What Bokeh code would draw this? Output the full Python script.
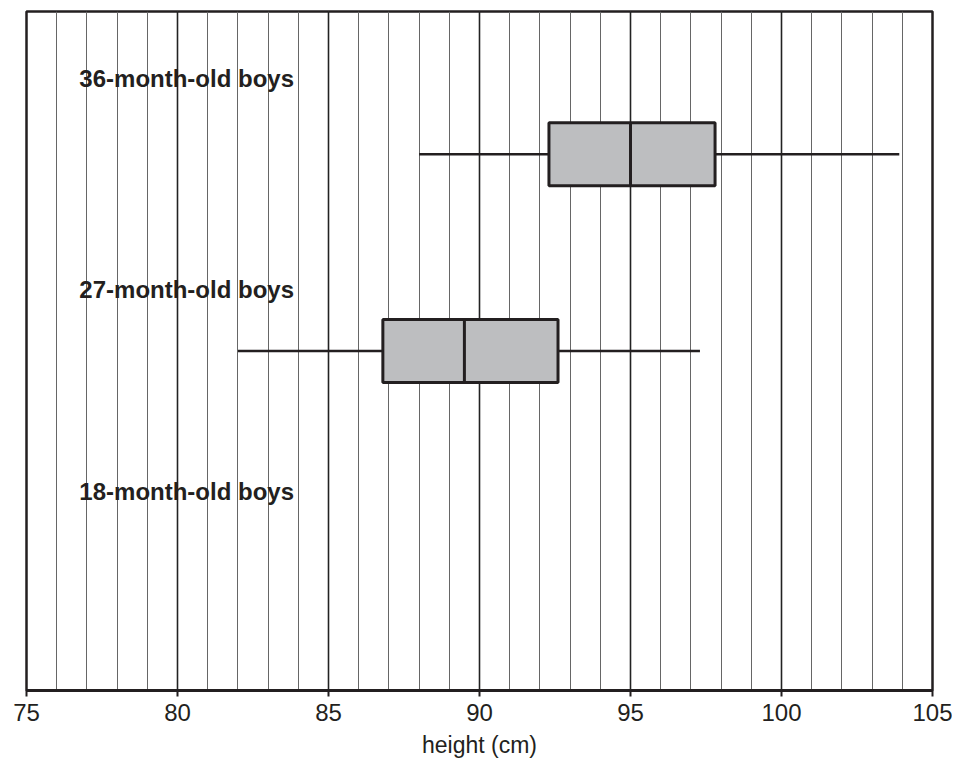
from bokeh.plotting import figure
from bokeh.models import SingleIntervalTicker, ColumnDataSource
from bokeh.core.properties import value
from bokeh.embed import file_html
from bokeh.resources import INLINE

# ---- data ----
groups = ["18-month-old boys", "27-month-old boys", "36-month-old boys"]
box_groups = ["27-month-old boys", "36-month-old boys"]
mins = [82.0, 88.0]
q1 = [86.8, 92.3]
medians = [89.5, 95.0]
q3 = [92.6, 97.8]
maxs = [97.3, 103.9]
x_label = "height (cm)"

# ---- layout ----
INK = "#231F20"
half = 0.16
label_x = 76.75
label_offsets = [0.287, 0.315, 0.383]

rows = [groups.index(g) + 1 for g in box_groups]
src = ColumnDataSource(dict(
    row=rows, lo=mins, q1=q1, med=medians, q3=q3, hi=maxs,
    bottom=[r - half for r in rows], top=[r + half for r in rows],
))

p = figure(width=952, height=760, x_range=(75, 105), y_range=(0.2748, 3.7252),
           output_backend="svg", toolbar_location=None,
           min_border_left=26, min_border_right=20, min_border_top=11,
           min_border_bottom=40)
p.background_fill_color = "white"
p.border_fill_color = "white"
p.outline_line_color = INK
p.outline_line_width = 2.5

ticker = SingleIntervalTicker(interval=5, num_minor_ticks=5)
p.xaxis.ticker = ticker
p.xgrid.ticker = ticker
p.xgrid.grid_line_color = "#222222"
p.xgrid.grid_line_width = 1.6
p.xgrid.minor_grid_line_color = "#666666"
p.xgrid.minor_grid_line_width = 1.0
p.ygrid.visible = False
p.yaxis.visible = False

ax = p.xaxis[0]
ax.axis_label = x_label
ax.axis_line_color = INK
ax.axis_line_width = 3
ax.major_tick_line_color = INK
ax.major_tick_line_width = 2
ax.major_tick_out = 6
ax.major_tick_in = 0
ax.minor_tick_line_color = None
ax.major_label_text_font = "Liberation Sans"
ax.major_label_text_font_size = "24px"
ax.major_label_text_color = INK
ax.major_label_standoff = 7
ax.axis_label_text_font = "Liberation Sans"
ax.axis_label_text_font_size = "23px"
ax.axis_label_text_font_style = "normal"
ax.axis_label_text_color = INK
ax.axis_label_standoff = 8

# whiskers
p.segment(x0="lo", x1="hi", y0="row", y1="row", source=src,
          line_color=INK, line_width=2.5)
# boxes
p.quad(left="q1", right="q3", bottom="bottom", top="top", source=src,
       fill_color="#BDBEC0", line_color=INK, line_width=3)
# medians
p.segment(x0="med", x1="med", y0="bottom", y1="top", source=src,
          line_color=INK, line_width=3)

# group labels
p.text(x=[label_x] * len(groups),
       y=[i + 1 + label_offsets[i] for i in range(len(groups))],
       text=groups, text_font=value("Liberation Sans"),
       text_font_style="bold", text_font_size="24px",
       text_baseline="alphabetic", text_align="left", text_color=INK)

open("out.html", "w").write(file_html(p, INLINE))
